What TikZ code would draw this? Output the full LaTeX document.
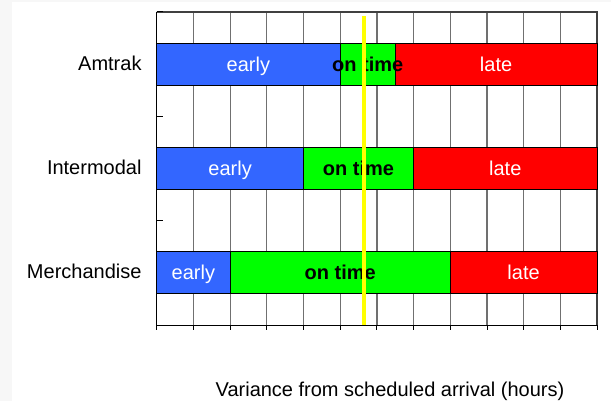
\documentclass[tikz,border=0pt]{standalone}
\usepackage{fontspec}
\setmainfont{Liberation Sans}
\definecolor{earlyc}{RGB}{51,102,255}
\definecolor{ontimec}{RGB}{0,255,0}
\definecolor{latec}{RGB}{255,0,0}
\definecolor{markc}{RGB}{255,255,0}
\definecolor{stripc}{RGB}{247,247,247}
\definecolor{gridc}{RGB}{112,112,112}
\definecolor{framec}{RGB}{64,64,64}
\begin{document}
\begin{tikzpicture}[x=1pt,y=-1pt,
  txt/.style={font=\fontsize{20}{24}\selectfont, inner sep=0pt},
  gridline/.style={draw=gridc, line width=1.2pt},
  axisline/.style={draw=black, line width=1pt},
  frameline/.style={draw=framec, line width=1.2pt},
  segbox/.style={draw=black, line width=0.8pt},
  wtxt/.style={txt, text=white, anchor=base},
  btxt/.style={txt, text=black, font=\fontsize{20}{24}\selectfont\bfseries, anchor=base},
  cat/.style={txt, anchor=base east},
  marker/.style={draw=markc, line width=3.7pt}]
\useasboundingbox (0,0) rectangle (611,401);
\fill[stripc] (0,0) rectangle (611,2);
\fill[stripc] (0,0) rectangle (12,401);
% vertical grid
\foreach \i in {1,...,11} \draw[gridline] ({156.7+36.7*\i},12) -- ++(0,313);
% frame
\draw[frameline] (156.7,12) -- (597,12) -- (597,325);
% ticks
\foreach \i in {0,...,12} \draw[axisline] ({156.7+36.7*\i},325) -- ++(0,5);
\foreach \yy in {12,116.33,220.67,325} \draw[axisline] (156.7,\yy) -- ++(6,0);
% Amtrak bar
\draw[segbox, fill=earlyc] (156.7,43.3) rectangle (340.2,85);
\draw[segbox, fill=ontimec] (340.2,43.3) rectangle (395.3,85);
\draw[segbox, fill=latec] (395.3,43.3) rectangle (597,85);
\node[wtxt] (a1) at (248.4,71.4) {early};
\node[btxt] (a2) at (367.7,71.4) {on time};
\node[wtxt] (a3) at (496.1,71.4) {late};
% Intermodal bar
\draw[segbox, fill=earlyc] (156.7,147.3) rectangle (303.5,189.3);
\draw[segbox, fill=ontimec] (303.5,147.3) rectangle (413.6,189.3);
\draw[segbox, fill=latec] (413.6,147.3) rectangle (597,189.3);
\node[wtxt] (b1) at (230.1,175.5) {early};
\node[btxt] (b2) at (358.5,175.5) {on time};
\node[wtxt] (b3) at (505.3,175.5) {late};
% Merchandise bar
\draw[segbox, fill=earlyc] (156.7,251.7) rectangle (230.1,293.3);
\draw[segbox, fill=ontimec] (230.1,251.7) rectangle (450.3,293.3);
\draw[segbox, fill=latec] (450.3,251.7) rectangle (597,293.3);
\node[wtxt] (c1) at (193.4,279.5) {early};
\node[btxt] (c2) at (340.2,279.5) {on time};
\node[wtxt] (c3) at (523.6,279.5) {late};
% axes
\draw[axisline] (156.7,12) -- (156.7,325) -- (597,325);
% marker line
\draw[marker] (363.7,16) -- (363.7,325);
% category labels
\node[cat] (l1) at (141.7,70.7) {Amtrak};
\node[cat] (l2) at (141.7,175) {Intermodal};
\node[cat] (l3) at (141.7,278.3) {Merchandise};
% axis title
\node[txt, anchor=base] (xt) at (390,396.5) {Variance from scheduled arrival (hours)};
\end{tikzpicture}
\end{document}
